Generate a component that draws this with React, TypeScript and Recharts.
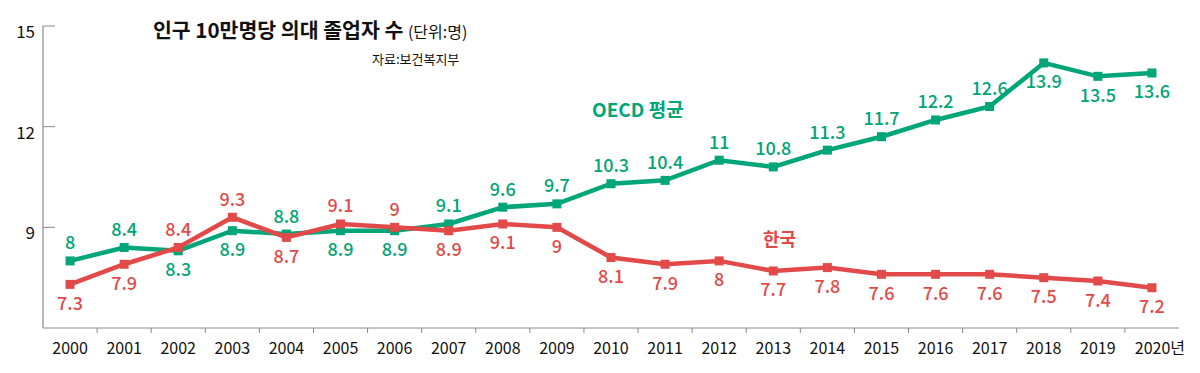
import React from "react";
import { LabelList, Line, LineChart, XAxis, YAxis } from "recharts";

const years = [
  "2000", "2001", "2002", "2003", "2004", "2005", "2006", "2007", "2008", "2009", "2010",
  "2011", "2012", "2013", "2014", "2015", "2016", "2017", "2018", "2019", "2020",
];
const oecdValues = [
  8, 8.4, 8.3, 8.9, 8.8, 8.9, 8.9, 9.1, 9.6, 9.7, 10.3, 10.4, 11, 10.8, 11.3, 11.7, 12.2,
  12.6, 13.9, 13.5, 13.6,
];
const koreaValues = [
  7.3, 7.9, 8.4, 9.3, 8.7, 9.1, 9, 8.9, 9.1, 9, 8.1, 7.9, 8, 7.7, 7.8, 7.6, 7.6, 7.6, 7.5,
  7.4, 7.2,
];
// where each value label sits relative to its point
const oecdLabelSide = [
  "up", "up", "down", "down", "up", "down", "down", "up", "up", "up", "up", "up", "up",
  "up", "up", "up", "up", "up", "down", "down", "down",
];
const koreaLabelSide = [
  "down", "down", "up", "up", "down", "up", "up", "down", "down", "down", "down", "down",
  "down", "down", "down", "down", "down", "down", "down", "down", "down",
];
const yTicks = [9, 12, 15];

const GREEN = "#00a578";
const RED = "#e24a4a";
const AXIS = "#8a8a8a";
const FONT = "'Noto Sans CJK KR', 'Noto Sans', sans-serif";

const WIDTH = 1200;
const HEIGHT = 373;
const MARGIN = { top: 26, right: 21, bottom: 0, left: 0 };
const Y_WIDTH = 43;
const BAND = (WIDTH - Y_WIDTH - MARGIN.right) / years.length;

const data = years.map((year, i) => ({
  year,
  oecd: oecdValues[i],
  korea: koreaValues[i],
}));

const SquareDot = (color: string) => (props: any) => {
  const { cx, cy, index } = props;
  if (cx == null || cy == null) return <g key={index} />;
  return <rect key={index} x={cx - 4.5} y={cy - 4.5} width={9} height={9} fill={color} />;
};

const makeLabel = (color: string, sides: string[]) => (props: any) => {
  const { x, y, value, index } = props;
  const up = sides[index] === "up";
  return (
    <text
      key={index}
      x={x}
      y={up ? y - 18 : y + 19}
      dy="0.36em"
      textAnchor="middle"
      fill={color}
      fontSize={18}
      fontWeight={500}
      fontFamily={FONT}
    >
      {value}
    </text>
  );
};

const XTick = (props: any) => {
  const { x, y, payload, index } = props;
  const last = index === years.length - 1;
  return (
    <g>
      {index > 0 && (
        <line x1={x - BAND / 2} x2={x - BAND / 2} y1={y} y2={y + 5} stroke={AXIS} strokeWidth={1} />
      )}
      <text
        x={last ? x + 8 : x}
        y={y + 20}
        dy="0.36em"
        textAnchor="middle"
        fill="#111"
        fontSize={16}
        fontFamily={FONT}
      >
        {last ? `${payload.value}년` : payload.value}
      </text>
    </g>
  );
};

const YTick = (props: any) => {
  const { x, y, payload } = props;
  return (
    <g>
      <line x1={x} x2={x + 12} y1={y} y2={y} stroke={AXIS} strokeWidth={1} />
      <text
        x={x - 8}
        y={y + 6}
        dy="0.36em"
        textAnchor="end"
        fill="#111"
        fontSize={17}
        fontFamily={FONT}
      >
        {payload.value}
      </text>
    </g>
  );
};

export default function App() {
  return (
    <div
      style={{
        position: "absolute",
        left: 0,
        top: 0,
        width: WIDTH,
        height: HEIGHT,
        background: "#fff",
        fontFamily: FONT,
      }}
    >
      <LineChart width={WIDTH} height={HEIGHT} data={data} margin={MARGIN}>
        <XAxis
          dataKey="year"
          height={45}
          padding={{ left: BAND / 2, right: BAND / 2 }}
          tickSize={0}
          tickMargin={0}
          tickLine={false}
          interval={0}
          stroke={AXIS}
          strokeWidth={1.2}
          tick={<XTick />}
        />
        <YAxis
          width={Y_WIDTH}
          domain={[6, 15]}
          ticks={yTicks}
          tickSize={0}
          tickMargin={0}
          tickLine={false}
          stroke={AXIS}
          strokeWidth={1.2}
          tick={<YTick />}
        />
        <Line
          type="linear"
          dataKey="oecd"
          stroke={GREEN}
          strokeWidth={4.5}
          dot={SquareDot(GREEN)}
          activeDot={false}
          isAnimationActive={false}
        >
          <LabelList dataKey="oecd" content={makeLabel(GREEN, oecdLabelSide)} />
        </Line>
        <Line
          type="linear"
          dataKey="korea"
          stroke={RED}
          strokeWidth={4.5}
          dot={SquareDot(RED)}
          activeDot={false}
          isAnimationActive={false}
        >
          <LabelList dataKey="korea" content={makeLabel(RED, koreaLabelSide)} />
        </Line>
      </LineChart>

      <div
        style={{
          position: "absolute",
          left: 153,
          top: 19,
          whiteSpace: "nowrap",
          color: "#111",
          lineHeight: 1,
        }}
      >
        <span style={{ fontSize: 20.5, fontWeight: 700 }}>인구 10만명당 의대 졸업자 수 </span>
        <span style={{ fontSize: 16 }}>(단위:명)</span>
      </div>
      <div
        style={{
          position: "absolute",
          left: 372,
          top: 52,
          fontSize: 13,
          color: "#111",
          whiteSpace: "nowrap",
          lineHeight: 1,
        }}
      >
        자료:보건복지부
      </div>
      <div
        style={{
          position: "absolute",
          left: 592,
          top: 99,
          fontSize: 19,
          fontWeight: 700,
          color: GREEN,
          whiteSpace: "nowrap",
          lineHeight: 1,
        }}
      >
        OECD 평균
      </div>
      <div
        style={{
          position: "absolute",
          left: 763,
          top: 229,
          fontSize: 18,
          fontWeight: 700,
          color: RED,
          whiteSpace: "nowrap",
          lineHeight: 1,
        }}
      >
        한국
      </div>
    </div>
  );
}
